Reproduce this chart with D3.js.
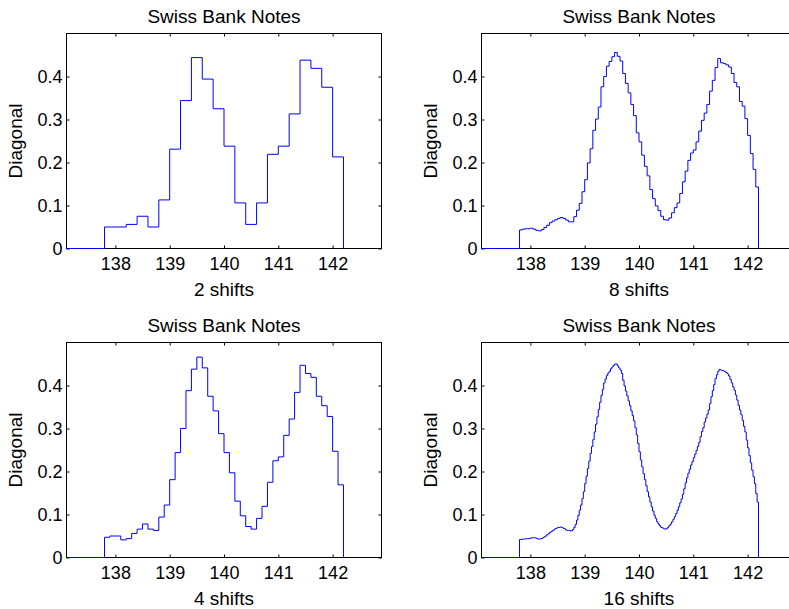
<!DOCTYPE html>
<html lang="en">
<head>
    <meta charset="utf-8">
    <title>Swiss Bank Notes - averaged shifted histograms</title>
    <script type="text/javascript" src="https://d3js.org/d3.v7.min.js"></script>
    <style>
        body { margin: 0; background: #fff; }
        text { font-family: "Liberation Sans", Arial, Helvetica, sans-serif; fill: #000; }
    </style>
</head>
<body>
<script type="text/javascript">
    // axis ticks
    var xTicks = [138, 139, 140, 141, 142];
    var yTicks = [0, 0.1, 0.2, 0.3, 0.4];
    var xDomain = [137.1, 142.9];
    var yDomain = [0, 0.5];

    // histograms start at 137.8, narrow bin width depends on number of shifts
    var binStart = 137.8;
    var shiftLabels = ["2 shifts", "8 shifts", "4 shifts", "16 shifts"];
    var binWidths = [0.2, 0.05, 0.1, 0.025];

    var ash2 = [0.05, 0.05, 0.056, 0.075, 0.05, 0.113, 0.231, 0.344, 0.444, 0.394, 0.325,
        0.238, 0.106, 0.056, 0.106, 0.219, 0.238, 0.313, 0.438, 0.419, 0.375, 0.213];

    var ash4 = [0.047, 0.05, 0.05, 0.041, 0.044, 0.056, 0.066, 0.078, 0.066, 0.063, 0.094,
        0.122, 0.181, 0.244, 0.3, 0.388, 0.438, 0.466, 0.441, 0.375, 0.341, 0.288, 0.244,
        0.197, 0.131, 0.097, 0.072, 0.066, 0.091, 0.119, 0.175, 0.225, 0.234, 0.284, 0.322,
        0.384, 0.447, 0.428, 0.419, 0.375, 0.353, 0.328, 0.247, 0.169];

    var ash8 = [0.043, 0.045, 0.046, 0.046, 0.047, 0.045, 0.042, 0.041, 0.044, 0.049,
        0.054, 0.060, 0.064, 0.067, 0.070, 0.072, 0.070, 0.066, 0.062, 0.062,
        0.074, 0.089, 0.105, 0.132, 0.160, 0.199, 0.232, 0.275, 0.301, 0.329,
        0.376, 0.400, 0.424, 0.435, 0.446, 0.456, 0.447, 0.436, 0.407, 0.384,
        0.362, 0.335, 0.309, 0.269, 0.248, 0.217, 0.191, 0.169, 0.137, 0.116,
        0.099, 0.088, 0.075, 0.067, 0.066, 0.071, 0.083, 0.095, 0.106, 0.128,
        0.155, 0.180, 0.205, 0.222, 0.229, 0.248, 0.273, 0.298, 0.315, 0.335,
        0.366, 0.391, 0.421, 0.442, 0.432, 0.430, 0.427, 0.422, 0.407, 0.386,
        0.376, 0.342, 0.331, 0.302, 0.263, 0.221, 0.184, 0.143];

    var ash16 = [0.042, 0.042, 0.043, 0.043, 0.043, 0.044, 0.044, 0.044, 0.045, 0.046,
        0.046, 0.046, 0.045, 0.043, 0.043, 0.043, 0.044, 0.046, 0.048, 0.050,
        0.053, 0.055, 0.058, 0.060, 0.063, 0.064, 0.067, 0.068, 0.070, 0.070,
        0.071, 0.070, 0.068, 0.067, 0.064, 0.063, 0.063, 0.062, 0.062, 0.065,
        0.070, 0.077, 0.087, 0.098, 0.110, 0.122, 0.137, 0.153, 0.172, 0.189,
        0.207, 0.224, 0.242, 0.258, 0.274, 0.292, 0.310, 0.327, 0.344, 0.361,
        0.377, 0.391, 0.406, 0.415, 0.423, 0.429, 0.433, 0.439, 0.443, 0.447,
        0.450, 0.450, 0.446, 0.441, 0.436, 0.428, 0.412, 0.399, 0.387, 0.376,
        0.364, 0.353, 0.341, 0.330, 0.318, 0.302, 0.285, 0.265, 0.246, 0.227,
        0.211, 0.195, 0.181, 0.167, 0.153, 0.141, 0.129, 0.118, 0.108, 0.098,
        0.091, 0.083, 0.078, 0.074, 0.070, 0.069, 0.067, 0.066, 0.067, 0.070,
        0.074, 0.078, 0.083, 0.089, 0.095, 0.102, 0.110, 0.118, 0.127, 0.136,
        0.147, 0.160, 0.174, 0.185, 0.196, 0.205, 0.215, 0.223, 0.232, 0.240,
        0.249, 0.258, 0.268, 0.281, 0.293, 0.302, 0.315, 0.324, 0.333, 0.343,
        0.358, 0.374, 0.388, 0.402, 0.416, 0.425, 0.433, 0.437, 0.436, 0.435,
        0.434, 0.432, 0.430, 0.427, 0.422, 0.414, 0.406, 0.397, 0.389, 0.378,
        0.366, 0.354, 0.343, 0.332, 0.319, 0.305, 0.292, 0.273, 0.255, 0.237,
        0.220, 0.203, 0.188, 0.172, 0.149, 0.129];

    var series = [ash2, ash8, ash4, ash16];

    var W = 789, H = 609;
    var plotW = 315, plotH = 215;
    var lefts = [66.5, 481.5];
    var tops = [33.5, 342.5];
    var tickFont = 18, labelFont = 19;

    var svg = d3.select("body")
        .append("svg")
        .attr("width", W)
        .attr("height", H);

    var x = d3.scaleLinear().domain(xDomain).range([0, plotW]);
    var y = d3.scaleLinear().domain(yDomain).range([plotH, 0]);

    var stairs = d3.line()
        .x(function (d) { return x(d[0]); })
        .y(function (d) { return y(d[1]); })
        .curve(d3.curveStepAfter);

    series.forEach(function (values, i) {
        var g = svg.append("g")
            .attr("transform", "translate(" + lefts[i % 2] + "," + tops[Math.floor(i / 2)] + ")");

        // inward ticks on all four sides
        var gx = g.append("g")
            .attr("transform", "translate(0," + plotH + ")")
            .call(d3.axisBottom(x).tickValues(xTicks).tickSize(-3).tickSizeOuter(0)
                .tickFormat(d3.format("d")));
        gx.selectAll(".tick text").attr("y", 21).attr("dy", null);

        g.append("g")
            .call(d3.axisTop(x).tickValues(xTicks).tickSize(-3).tickSizeOuter(0).tickFormat(""));

        var gy = g.append("g")
            .call(d3.axisLeft(y).tickValues(yTicks).tickSize(-3).tickSizeOuter(0)
                .tickFormat(function (d) { return String(d); }));
        gy.selectAll(".tick text").attr("x", -4).attr("dy", "0.34em");

        g.append("g")
            .attr("transform", "translate(" + plotW + ",0)")
            .call(d3.axisRight(y).tickValues(yTicks).tickSize(-3).tickSizeOuter(0).tickFormat(""));

        g.selectAll(".domain").remove();
        g.selectAll(".tick line").attr("stroke", "#000");
        g.selectAll(".tick text")
            .attr("font-size", tickFont)
            .attr("font-family", "Liberation Sans, Arial, sans-serif");

        g.append("rect")
            .attr("width", plotW)
            .attr("height", plotH)
            .attr("fill", "none")
            .attr("stroke", "#000")
            .attr("stroke-width", 1);

        // stair line: zero from left edge, then one step per narrow bin
        var w = binWidths[i];
        var pts = [[xDomain[0], 0]];
        values.forEach(function (v, k) {
            pts.push([binStart + k * w, v]);
        });
        pts.push([binStart + values.length * w, 0]);

        g.append("path")
            .datum(pts)
            .attr("d", stairs)
            .attr("fill", "none")
            .attr("stroke", "#0000ff")
            .attr("stroke-width", 1);

        g.append("text")
            .attr("x", plotW / 2)
            .attr("y", -10.5)
            .attr("text-anchor", "middle")
            .attr("font-size", labelFont)
            .text("Swiss Bank Notes");

        g.append("text")
            .attr("x", plotW / 2)
            .attr("y", plotH + 47)
            .attr("text-anchor", "middle")
            .attr("font-size", labelFont)
            .text(shiftLabels[i]);

        g.append("text")
            .attr("transform", "translate(-45," + (plotH / 2) + ") rotate(-90)")
            .attr("text-anchor", "middle")
            .attr("font-size", labelFont)
            .text("Diagonal");
    });
</script>
</body>
</html>
